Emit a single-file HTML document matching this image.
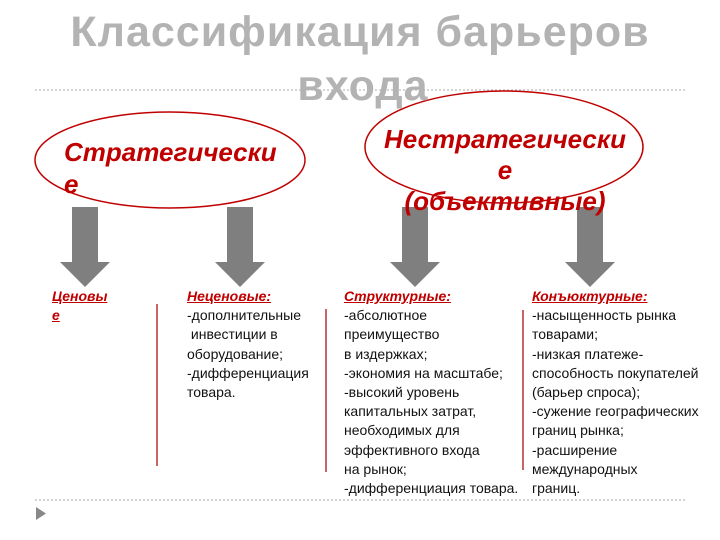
<!DOCTYPE html>
<html><head><meta charset="utf-8"><style>
body{margin:0;width:720px;height:540px;background:#fff;position:relative;overflow:hidden;font-family:"Liberation Sans",sans-serif}
.t{position:absolute;left:0;width:720px;text-align:center;color:#b3b3b3;font-weight:bold;font-size:43px;letter-spacing:1px}
.col{position:absolute;font-size:14px;line-height:19.2px;color:#111;white-space:pre}
.h{color:#c00000;font-weight:bold;font-style:italic;text-decoration:underline}
.e{position:absolute;color:#c00000;font-weight:bold;font-style:italic;font-size:26px;line-height:32px}
</style></head><body>
<svg width="720" height="540" style="position:absolute;left:0;top:0">
<line x1="35" y1="90" x2="685" y2="90" stroke="#aaa" stroke-dasharray="2,2"/>
<line x1="35" y1="500" x2="685" y2="500" stroke="#aaa" stroke-dasharray="2,2"/>
<polygon points="36,507 46,513.5 36,520" fill="#888"/>
<ellipse cx="170" cy="160" rx="135" ry="48" fill="none" stroke="#c00000" stroke-width="1.5"/>
<ellipse cx="504" cy="147" rx="139" ry="56" fill="none" stroke="#c00000" stroke-width="1.5"/>
<g fill="#7f7f7f">
<polygon points="72,207 98,207 98,262 110,262 85,287 60,262 72,262"/>
<polygon points="227,207 253,207 253,262 265,262 240,287 215,262 227,262"/>
<polygon points="402,207 428,207 428,262 440,262 415,287 390,262 402,262"/>
<polygon points="577,207 603,207 603,262 615,262 590,287 565,262 577,262"/>
</g>
<g stroke="#a00000" stroke-width="1.2">
<line x1="157" y1="304" x2="157" y2="466"/>
<line x1="326" y1="309" x2="326" y2="472"/>
<line x1="523" y1="310" x2="523" y2="470"/>
</g>
</svg>
<div class="t" style="top:8px">Классификация барьеров</div>
<div class="t" style="top:62px;left:3px">входа</div>
<div class="e" style="left:64px;top:136px">Стратегически<br>е</div>
<div class="e" style="left:380px;top:124px;width:250px;text-align:center;line-height:31px">Нестратегически<br>е<br>(объективные)</div>
<div class="col" style="left:52px;top:287px"><span class="h">Ценовы</span>
<span class="h">е</span></div>
<div class="col" style="left:187px;top:287px"><span class="h">Неценовые:</span>
-дополнительные
 инвестиции в
оборудование;
-дифференциация
товара.</div>
<div class="col" style="left:344px;top:287px"><span class="h">Структурные:</span>
-абсолютное
преимущество
в издержках;
-экономия на масштабе;
-высокий уровень
капитальных затрат,
необходимых для
эффективного входа
на рынок;
-дифференциация товара.</div>
<div class="col" style="left:532px;top:287px"><span class="h">Конъюктурные:</span>
-насыщенность рынка
товарами;
-низкая платеже-
способность покупателей
(барьер спроса);
-сужение географических
границ рынка;
-расширение
международных
границ.</div>
</body></html>
